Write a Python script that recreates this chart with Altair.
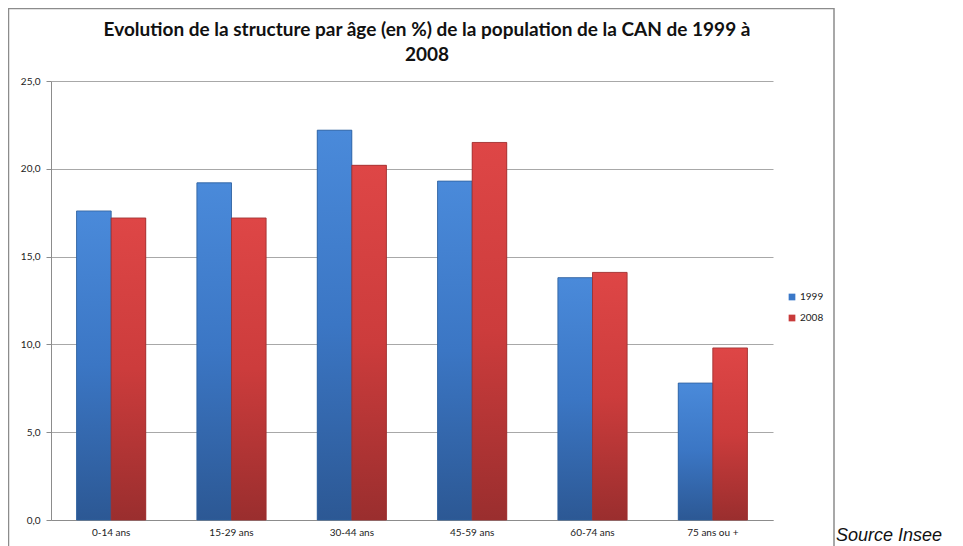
import altair as alt
import pandas as pd

categories = ["0-14 ans", "15-29 ans", "30-44 ans", "45-59 ans", "60-74 ans", "75 ans ou +"]
years = ["1999", "2008"]
values_1999 = [17.6, 19.2, 22.2, 19.3, 13.8, 7.8]
values_2008 = [17.2, 17.2, 20.2, 21.5, 14.1, 9.8]
y_ticks = [0, 5, 10, 15, 20, 25]
title_text = "Evolution de la structure par âge (en %) de la population de la CAN de 1999 à\n2008"
source_text = "Source Insee"

rows = []
for c, a, b in zip(categories, values_1999, values_2008):
    rows.append({"cat": c, "year": "1999", "val": a})
    rows.append({"cat": c, "year": "2008", "val": b})
df = pd.DataFrame(rows)

W, H = 722, 439
FONT = "Lato"

x_enc = alt.X("cat:N", sort=categories,
              scale=alt.Scale(paddingInner=0.425, paddingOuter=0.2125),
              axis=alt.Axis(title=None, labelAngle=0, ticks=False, domainColor="#8c8c8c",
                            labelFontSize=10, labelColor="#222222", labelFont=FONT,
                            labelPadding=7))
y_enc = alt.Y("val:Q", scale=alt.Scale(domain=[0, 25], nice=False),
              axis=alt.Axis(title=None, values=y_ticks, grid=True, gridColor="#a8a8a8",
                            domainColor="#8c8c8c", tickColor="#8c8c8c", tickSize=5,
                            labelFontSize=10, labelColor="#222222", labelFont=FONT,
                            labelPadding=6,
                            labelExpr="replace(format(datum.value, '.1f'), '.', ',')"))
xo = alt.XOffset("year:N", scale=alt.Scale(domain=years))

base = alt.Chart(df)

legend_layer = base.mark_bar().encode(
    x=x_enc, y=y_enc, xOffset=xo,
    color=alt.Color("year:N", scale=alt.Scale(domain=years, range=["#3a78c8", "#c83a3a"]),
                    legend=alt.Legend(title=None, orient="none", legendX=736, legendY=211,
                                      symbolType="square", symbolSize=45, labelFontSize=10,
                                      labelFont=FONT, labelColor="#222222", rowPadding=11,
                                      labelOffset=3, symbolStrokeWidth=0))
)

blue_grad = alt.LinearGradient(gradient="linear", x1=0, y1=0, x2=0, y2=1,
                               stops=[alt.GradientStop(color="#4a8ada", offset=0),
                                      alt.GradientStop(color="#3b76c4", offset=0.5),
                                      alt.GradientStop(color="#2c5894", offset=1)])
red_grad = alt.LinearGradient(gradient="linear", x1=0, y1=0, x2=0, y2=1,
                              stops=[alt.GradientStop(color="#de4646", offset=0),
                                     alt.GradientStop(color="#cc3c3c", offset=0.5),
                                     alt.GradientStop(color="#9a2e2e", offset=1)])

b1999 = base.transform_filter(alt.datum.year == "1999").mark_bar(
    fill=blue_grad, stroke="#2f5f9c", strokeWidth=0.8).encode(x=x_enc, y=y_enc, xOffset=xo)
b2008 = base.transform_filter(alt.datum.year == "2008").mark_bar(
    fill=red_grad, stroke="#9c3030", strokeWidth=0.8).encode(x=x_enc, y=y_enc, xOffset=xo)

frame = alt.Chart(pd.DataFrame({"k": [0]})).mark_rect(
    fill=None, stroke="#8c8c8c", strokeWidth=1.5).encode(
    x=alt.value(-42.5), x2=alt.value(783), y=alt.value(-72.5), y2=alt.value(530))

title = alt.Chart(pd.DataFrame({"t": [title_text]})).mark_text(
    align="center", baseline="middle", font=FONT, fontSize=19, fontWeight="bold",
    color="#111111", lineBreak="\n", lineHeight=25).encode(
    x=alt.value(376), y=alt.value(-51), text="t:N")

source = alt.Chart(pd.DataFrame({"t": [source_text]})).mark_text(
    align="left", baseline="middle", font="Liberation Sans", fontStyle="italic",
    fontSize=18, color="#111111").encode(
    x=alt.value(785), y=alt.value(455), text="t:N")

chart = alt.layer(frame, legend_layer, b1999, b2008, title, source).properties(
    width=W, height=H,
    autosize=alt.AutoSizeParams(type="none"),
    padding={"left": 43, "top": 73, "right": 182, "bottom": 26},
).configure_view(stroke=None)

chart.save("out.html", embed_options={"renderer": "svg", "actions": False})
